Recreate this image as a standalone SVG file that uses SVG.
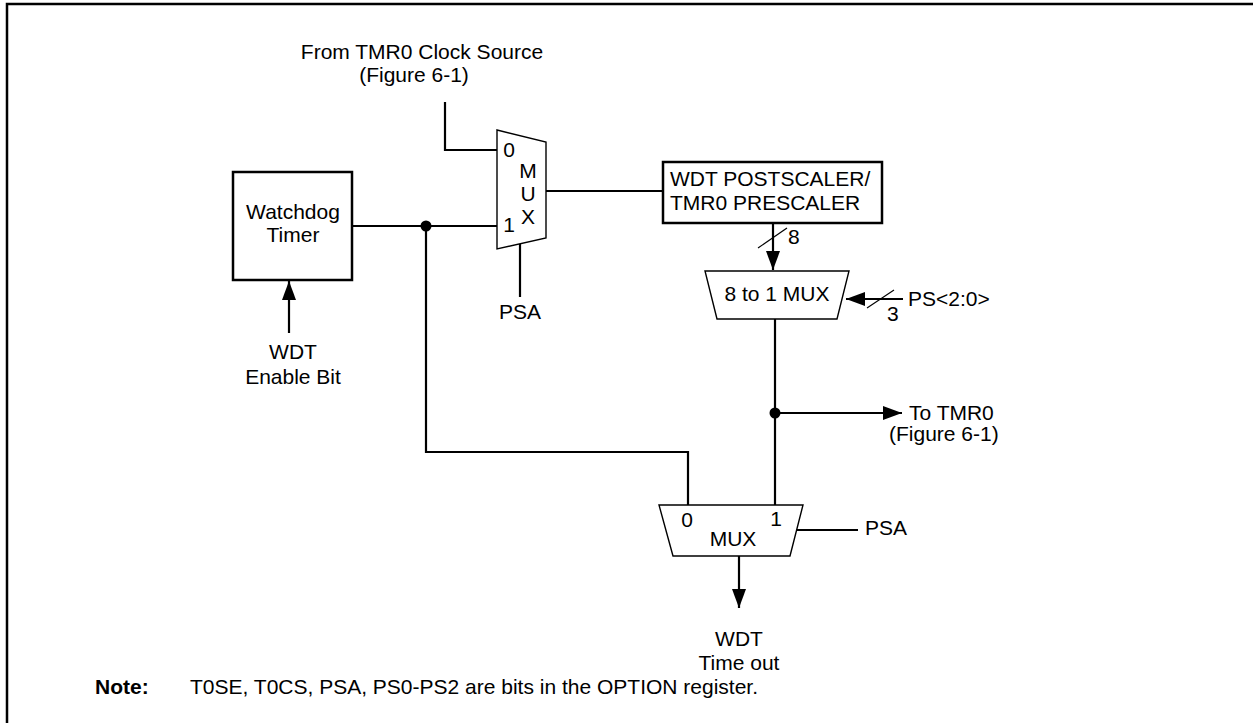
<svg xmlns="http://www.w3.org/2000/svg" width="1253" height="723" viewBox="0 0 1253 723">
<style>
text{font-family:"Liberation Sans",Arial,sans-serif;font-size:21px;fill:#000}
.w{fill:none;stroke:#000;stroke-width:2.2}
.box{fill:#fff;stroke:#000;stroke-width:2.5}
.mux{fill:#fff;stroke:#000;stroke-width:1.4}
.thin{fill:none;stroke:#000;stroke-width:1.2}
.c{text-anchor:middle}
</style>
<defs>
<marker id="ah" markerUnits="userSpaceOnUse" markerWidth="20" markerHeight="14" refX="19" refY="7" orient="auto">
<path d="M0,0 L19,7 L0,14 Z" fill="#000"/>
</marker>
</defs>
<rect x="0" y="0" width="1253" height="723" fill="#fff"/>
<path d="M7,723 V4 H1253" fill="none" stroke="#000" stroke-width="2.5"/>

<g id="connectors">
<path class="w" d="M445,102 V150 H497"/>
<path class="w" d="M352,226 H497"/>
<path class="w" d="M546,191 H663"/>
<path class="w" d="M520,244 V297"/>
<path class="w" d="M426,226 V452 H688 V505"/>
<path class="w" d="M773,223 V270" marker-end="url(#ah)"/>
<path class="thin" d="M758,248 L787,228"/>
<path class="w" d="M903,299 H846" marker-end="url(#ah)"/>
<path class="thin" d="M867,308 L894,290"/>
<path class="w" d="M775,319 V505"/>
<path class="w" d="M775,413 H902" marker-end="url(#ah)"/>
<path class="w" d="M289,333 V281" marker-end="url(#ah)"/>
<path class="w" d="M794,530 H858"/>
<path class="w" d="M739,556 V608" marker-end="url(#ah)"/>
<circle cx="426" cy="226" r="5.5"/>
<circle cx="775" cy="413" r="5.5"/>
</g>

<g id="clock-src">
<text x="422" y="59" class="c">From TMR0 Clock Source</text>
<text x="414" y="82" class="c">(Figure 6-1)</text>
</g>

<g id="mux1">
<path class="mux" d="M497,130 L546,142 L546,238 L497,249 Z"/>
<text x="509" y="157" class="c">0</text>
<text x="528" y="178" class="c">M</text>
<text x="528" y="201" class="c">U</text>
<text x="528" y="224" class="c">X</text>
<text x="509" y="232" class="c">1</text>
</g>

<g id="psa1">
<text x="520" y="319" class="c">PSA</text>
</g>

<g id="watchdog">
<rect class="box" x="233" y="172" width="119" height="108"/>
<text x="293" y="219" class="c">Watchdog</text>
<text x="293" y="242" class="c">Timer</text>
</g>

<g id="wdt-enable">
<text x="293" y="359" class="c">WDT</text>
<text x="293" y="384" class="c">Enable Bit</text>
</g>

<g id="prescaler">
<rect class="box" x="663" y="162" width="219" height="61"/>
<text x="670" y="186">WDT POSTSCALER/</text>
<text x="670" y="210">TMR0 PRESCALER</text>
</g>

<g id="bus8">
<text x="788" y="244">8</text>
</g>

<g id="mux8">
<path class="mux" d="M705,271 L849,271 L837,319 L717,319 Z"/>
<text x="777" y="301" class="c">8 to 1 MUX</text>
</g>

<g id="ps">
<text x="908" y="306">PS&lt;2:0&gt;</text>
<text x="887" y="321">3</text>
</g>

<g id="to-tmr0">
<text x="909" y="420">To TMR0</text>
<text x="889" y="441">(Figure 6-1)</text>
</g>

<g id="mux2">
<path class="mux" d="M659,505 L803,505 L790,556 L673,556 Z"/>
<text x="687" y="527" class="c">0</text>
<text x="776" y="526" class="c">1</text>
<text x="733" y="546" class="c">MUX</text>
</g>

<g id="psa2">
<text x="865" y="535">PSA</text>
</g>

<g id="wdt-timeout">
<text x="739" y="646" class="c">WDT</text>
<text x="739" y="670" class="c">Time out</text>
</g>

<g id="note">
<text x="95" y="694" font-weight="bold">Note:</text>
<text x="190" y="694">T0SE, T0CS, PSA, PS0-PS2 are bits in the OPTION register.</text>
</g>
</svg>
